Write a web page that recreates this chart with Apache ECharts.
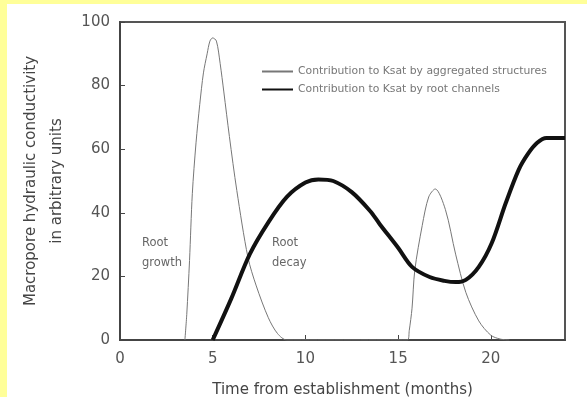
<!DOCTYPE html>
<html>
<head>
<meta charset="utf-8">
<script src="https://cdn.jsdelivr.net/npm/echarts@6/dist/echarts.min.js"></script>
<style>
  html, body { margin: 0; padding: 0; }
  body { width: 587px; height: 397px; background: #ffff99; position: relative; overflow: hidden; }
  #chart { position: absolute; left: 7px; top: 4px; width: 580px; height: 393px; background: #fff; }
</style>
</head>
<body>
<div id="chart"></div>
<script>
// thin line: contribution by aggregated structures
const aggX = [3.5, 3.6, 3.75, 3.9, 4.1, 4.3, 4.5, 4.7, 4.85, 5.0, 5.2, 5.4, 5.6, 5.9, 6.3, 6.9, 7.35, 8.0, 8.5, 9.0,
  15.5, 15.6, 15.75, 15.9, 16.3, 16.65, 17.0, 17.55, 18.1, 18.65, 19.35, 20.0, 20.5, 21.0];
const aggY = [0, 8, 25, 46, 62, 74, 84, 90, 94, 95, 94, 87, 78, 64, 47, 26, 17, 7, 2, 0,
  0, 3, 10, 22, 36, 45, 47.5, 41, 27, 15, 6, 1.5, 0.3, 0];
// thick line: contribution by root channels
const rootX = [5, 6, 7, 8, 9, 10, 10.7, 11.5, 12.5, 13.5, 14, 15, 15.75, 16.7, 17.5, 18.1, 18.65, 19.35, 20.05, 20.8, 21.5, 22, 22.5, 23, 24];
const rootY = [0, 13, 27, 37, 45, 49.5, 50.5, 50, 46.5, 40.5, 36.5, 29, 23, 19.8, 18.6, 18.2, 18.9, 23, 30.5, 43, 53.5, 58.5, 62, 63.5, 63.5];
const seriesNames = ["Contribution to Ksat by aggregated structures", "Contribution to Ksat by root channels"];

const chart = echarts.init(document.getElementById("chart"));
const font = "DejaVu Sans";
chart.setOption({
  animation: false,
  textStyle: { fontFamily: font },
  grid: {
    left: 113, top: 18, right: 22, bottom: 57,
    outerBoundsMode: "none",
    show: true, borderColor: "#555", borderWidth: 2
  },
  legend: {
    orient: "vertical",
    left: 249,
    top: 57,
    itemWidth: 31,
    itemHeight: 10,
    itemGap: 7,
    itemStyle: { opacity: 0 },
    textStyle: { fontSize: 10.8, color: "#777", fontFamily: font },
    data: seriesNames
  },
  xAxis: {
    type: "value",
    min: 0,
    max: 24,
    interval: 5,
    name: "Time from establishment (months)",
    nameLocation: "middle",
    nameGap: 43,
    nameTextStyle: { fontSize: 15, color: "#444" },
    axisLine: { lineStyle: { color: "#444", width: 2 } },
    axisTick: { inside: true, length: 5, lineStyle: { color: "#444" } },
    axisLabel: { fontSize: 15, color: "#555", margin: 12, showMaxLabel: false },
    splitLine: { show: false }
  },
  yAxis: {
    type: "value",
    min: 0,
    max: 100,
    interval: 20,
    name: "Macropore hydraulic conductivity\nin arbitrary units",
    nameLocation: "middle",
    nameGap: 48,
    nameTextStyle: { fontSize: 15, color: "#444", lineHeight: 26 },
    axisLine: { lineStyle: { color: "#444", width: 2 } },
    axisTick: { inside: true, length: 5, lineStyle: { color: "#444" } },
    axisLabel: { fontSize: 15, color: "#555", margin: 10 },
    splitLine: { show: false }
  },
  graphic: [
    { type: "text", left: 135, top: 229, style: { text: "Root\ngrowth", fontSize: 11.5, fill: "#666", fontFamily: font, lineHeight: 20 } },
    { type: "text", left: 265, top: 229, style: { text: "Root\ndecay", fontSize: 11.5, fill: "#666", fontFamily: font, lineHeight: 20 } }
  ],
  series: [
    {
      name: seriesNames[0],
      type: "line",
      smooth: 0.3,
      symbol: "none",
      lineStyle: { color: "#777", width: 1 },
      itemStyle: { color: "#777" },
      data: aggX.map((x, i) => [x, aggY[i]])
    },
    {
      name: seriesNames[1],
      type: "line",
      smooth: 0.3,
      symbol: "none",
      lineStyle: { color: "#111", width: 4 },
      itemStyle: { color: "#111" },
      data: rootX.map((x, i) => [x, rootY[i]])
    }
  ]
});
</script>
</body>
</html>
